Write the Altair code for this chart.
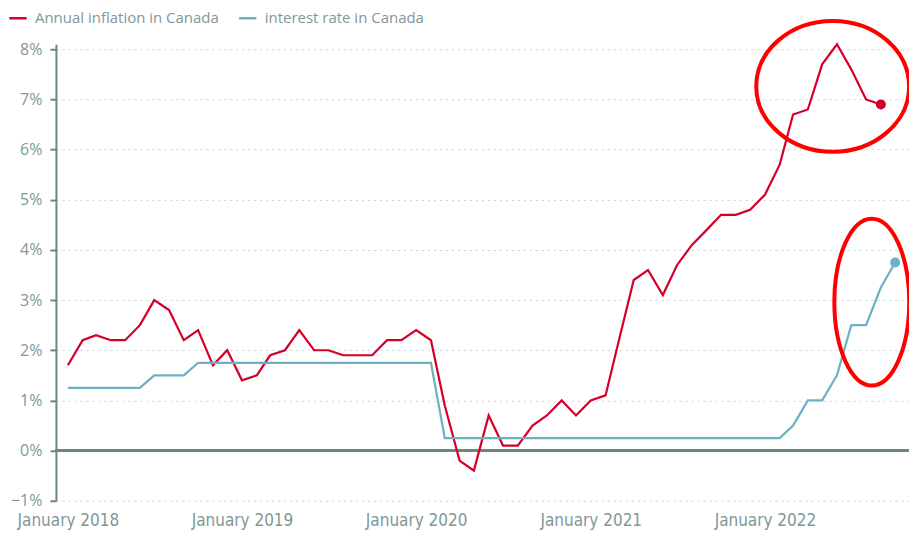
import altair as alt
import pandas as pd

months = pd.date_range("2018-01-01", "2022-10-01", freq="MS")

inflation = [1.7, 2.2, 2.3, 2.2, 2.2, 2.5, 3.0, 2.8, 2.2, 2.4, 1.7, 2.0,
             1.4, 1.5, 1.9, 2.0, 2.4, 2.0, 2.0, 1.9, 1.9, 1.9, 2.2, 2.2,
             2.4, 2.2, 0.9, -0.2, -0.4, 0.7, 0.1, 0.1, 0.5, 0.7, 1.0, 0.7,
             1.0, 1.1, 2.2, 3.4, 3.6, 3.1, 3.7, 4.1, 4.4, 4.7, 4.7, 4.8,
             5.1, 5.7, 6.7, 6.8, 7.7, 8.1, 7.6, 7.0, 6.9]
interest = [1.25, 1.25, 1.25, 1.25, 1.25, 1.25, 1.5, 1.5, 1.5, 1.75, 1.75, 1.75,
            1.75, 1.75, 1.75, 1.75, 1.75, 1.75, 1.75, 1.75, 1.75, 1.75, 1.75, 1.75,
            1.75, 1.75, 0.25, 0.25, 0.25, 0.25, 0.25, 0.25, 0.25, 0.25, 0.25, 0.25,
            0.25, 0.25, 0.25, 0.25, 0.25, 0.25, 0.25, 0.25, 0.25, 0.25, 0.25, 0.25,
            0.25, 0.25, 0.5, 1.0, 1.0, 1.5, 2.5, 2.5, 3.25, 3.75]

series_names = ["Annual inflation in Canada", "interest rate in Canada"]
series_colors = ["#d4002b", "#6cb1c1"]
x_tick_dates = ["2018-01-01", "2019-01-01", "2020-01-01", "2021-01-01", "2022-01-01"]
y_ticks = [-1, 0, 1, 2, 3, 4, 5, 6, 7, 8]

rows = []
for d, v in zip(months[:len(inflation)], inflation):
    rows.append({"date": d, "value": v, "series": series_names[0]})
for d, v in zip(months[:len(interest)], interest):
    rows.append({"date": d, "value": v, "series": series_names[1]})
df = pd.DataFrame(rows)
last = df.sort_values("date").groupby("series").tail(1)

# annotation ellipses (hand-drawn circles in the reference)
ann1 = pd.DataFrame({"date": [pd.Timestamp("2022-05-23")], "value": [7.26]})
ann2 = pd.DataFrame({"date": [pd.Timestamp("2022-08-13")], "value": [2.96]})


def ellipse_path(rx, ry):
    k = 0.5523
    return (f"M {-rx} 0 C {-rx} {-k*ry} {-k*rx} {-ry} 0 {-ry} "
            f"C {k*rx} {-ry} {rx} {-k*ry} {rx} 0 "
            f"C {rx} {k*ry} {k*rx} {ry} 0 {ry} "
            f"C {-k*rx} {ry} {-rx} {k*ry} {-rx} 0 Z")


x_scale = alt.Scale(domain=["2017-12-07", "2022-10-30"])
y_scale = alt.Scale(domain=[-1, 8.1], nice=False, zero=False)

axis_color = "#6e8583"
label_color = "#7f9896"

x_enc = alt.X("date:T", scale=x_scale, title=None,
              axis=alt.Axis(values=x_tick_dates, format="%B %Y", domain=False,
                            ticks=False, grid=False, labelFontSize=17,
                            labelFont="Liberation Sans Narrow, DejaVu Sans Condensed, sans-serif",
                            labelColor=label_color, labelPadding=12,
                            labelFlush=False, labelOverlap=False))
y_enc = alt.Y("value:Q", scale=y_scale, title=None,
              axis=alt.Axis(values=y_ticks,
                            labelExpr="(datum.value < 0 ? '\u2212' + abs(datum.value) : datum.value) + '%'",
                            domain=True, domainColor=axis_color, domainWidth=2,
                            ticks=True, tickColor=axis_color, tickWidth=2, tickSize=6,
                            grid=True, gridColor="#c3d8d5", gridDash=[2, 4], gridWidth=1,
                            labelFontSize=16, labelColor=label_color, labelPadding=8,
                            labelFont="Open Sans, sans-serif"))

color_enc = alt.Color("series:N", scale=alt.Scale(domain=series_names, range=series_colors),
                      legend=alt.Legend(title=None, orient="none", direction="horizontal",
                                        legendX=-48, legendY=-36, symbolType="stroke",
                                        symbolStrokeWidth=2.5, symbolSize=300,
                                        labelFontSize=15, labelColor=label_color,
                                        labelFont="Open Sans, sans-serif", labelLimit=0,
                                        labelOffset=7, columnPadding=14))

zero = alt.Chart(df).mark_rule(color=axis_color, strokeWidth=3).encode(y=alt.datum(0))

lines = alt.Chart(df).mark_line(strokeWidth=2.2).encode(
    x=x_enc, y=y_enc, color=color_enc, order="date:T")

dots = alt.Chart(last).mark_circle(size=100, opacity=1).encode(
    x="date:T", y="value:Q",
    color=alt.Color("series:N", scale=alt.Scale(domain=series_names, range=series_colors),
                    legend=None))

e1 = alt.Chart(ann1).mark_point(shape=ellipse_path(1, 0.856), size=153 * 153, filled=False,
                                stroke="#ff0000", strokeWidth=4, opacity=1).encode(
    x="date:T", y="value:Q")
e2 = alt.Chart(ann2).mark_point(shape=ellipse_path(0.449, 1), size=167 * 167, filled=False,
                                stroke="#ff0000", strokeWidth=4, opacity=1).encode(
    x="date:T", y="value:Q")

chart = alt.layer(zero, lines, dots, e1, e2).properties(
    width=854, height=457,
    autosize=alt.AutoSizeParams(type="none"),
    padding={"left": 48, "top": 36, "right": 0, "bottom": 30},
).configure_view(stroke=None)

chart.save("out.html", embed_options={"renderer": "svg", "actions": False})
